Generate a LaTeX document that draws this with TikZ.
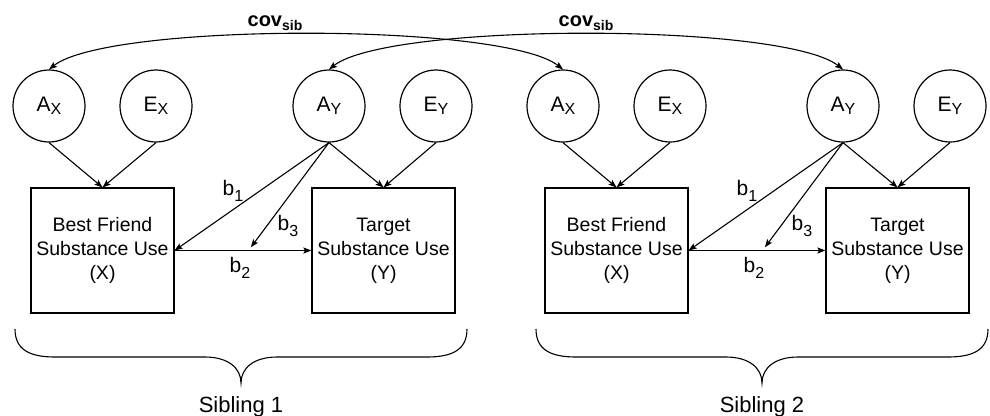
\documentclass[tikz,border=0pt]{standalone}
\usepackage{fontspec}
\setmainfont{Liberation Sans}
\usetikzlibrary{arrows.meta,calc}

% lowered index: #1 = drop, #2 = font size, #3 = text
\newcommand\lowidx[3]{\raisebox{-#1}{\fontsize{#2}{#2}\selectfont #3}}

\tikzset{
  latent/.style={draw, circle, line width=1.2pt, minimum size=72pt, inner sep=0pt,
    font=\fontsize{21}{24}\selectfont},
  observed/.style={draw, rectangle, line width=1.2pt, minimum width=143pt,
    minimum height=125pt, inner sep=0pt, align=center},
  effect/.style={-{Stealth[length=8pt,width=6pt,inset=1.5pt]}, line width=1.1pt},
  covpath/.style={{Stealth[length=8pt,width=6pt,inset=1.5pt]}-{Stealth[length=8pt,width=6pt,inset=1.5pt]},
    line width=1.1pt},
  coef/.style={anchor=base, inner sep=0pt, font=\fontsize{21}{24}\selectfont},
  covlabel/.style={anchor=base, inner sep=0pt, font=\fontsize{20}{22}\selectfont\bfseries},
  siblabel/.style={anchor=base, inner sep=0pt, font=\fontsize{22}{26}\selectfont},
  sibbrace/.pic={
    \draw[line width=1.1pt]
      (-226,-54) .. controls (-226,-33) and (-211,-26) .. (-186,-26)
      -- (-36,-26) .. controls (-13,-26) and (0,-15) .. (0,0)
      .. controls (0,-15) and (13,-26) .. (36,-26)
      -- (186,-26) .. controls (211,-26) and (226,-33) .. (226,-54);
  }
}

\begin{document}
\begin{tikzpicture}[x=1pt, y=-1pt, font=\fontsize{19.5}{24}\selectfont]
\useasboundingbox (0,0) rectangle (990,415);

\foreach \s/\dx in {1/0, 2/514} {
  % variance components
  \node[latent] (ax\s) at (49+\dx,106) {A\lowidx{3pt}{16}{X}};
  \node[latent] (ex\s) at (156+\dx,106) {E\lowidx{3pt}{16}{X}};
  \node[latent] (ay\s) at (329+\dx,106) {A\lowidx{3pt}{16}{Y}};
  \node[latent] (ey\s) at (436+\dx,106) {E\lowidx{3pt}{16}{Y}};

  % observed measures
  \node[observed] (bf\s) at (102.5+\dx,250.5) {Best Friend\\Substance Use\\(X)};
  \node[observed] (tg\s) at (383.5+\dx,250.5) {Target\\Substance Use\\(Y)};

  \coordinate (mod\s) at ($(bf\s.east)!0.54!(tg\s.west)$);

  % paths
  \draw[effect] (ax\s.south) -- (bf\s.north);
  \draw[effect] (ex\s.south) -- (bf\s.north);
  \draw[effect] (ay\s.south) -- (tg\s.north);
  \draw[effect] (ey\s.south) -- (tg\s.north);
  \draw[effect] (ay\s.south) -- (bf\s.east);
  \draw[effect] (bf\s.east) -- (tg\s.west);
  \draw[effect, shorten >=4pt] (ay\s.south) -- (mod\s);

  % coefficients
  \node[coef] (b1\s) at (233+\dx,195) {b\lowidx{6pt}{16}{1}};
  \node[coef] (b3\s) at (288+\dx,230) {b\lowidx{6pt}{16}{3}};
  \node[coef] (b2\s) at (240+\dx,272) {b\lowidx{6pt}{16}{2}};
}

% sibling covariances
\draw[covpath] (ax1.north) .. controls +(60,-47) and +(-60,-47) .. (ax2.north);
\draw[covpath] (ay1.north) .. controls +(60,-47) and +(-60,-47) .. (ay2.north);
\node[covlabel] (cov1) at (275,27) {cov\lowidx{4pt}{14}{sib}};
\node[covlabel] (cov2) at (586,27) {cov\lowidx{4pt}{14}{sib}};

% sibling groupings
\pic at (241,383) {sibbrace};
\pic at (762,383) {sibbrace};
\node[siblabel] (sib1) at (241,412) {Sibling 1};
\node[siblabel] (sib2) at (762,412) {Sibling 2};
\end{tikzpicture}
\end{document}
